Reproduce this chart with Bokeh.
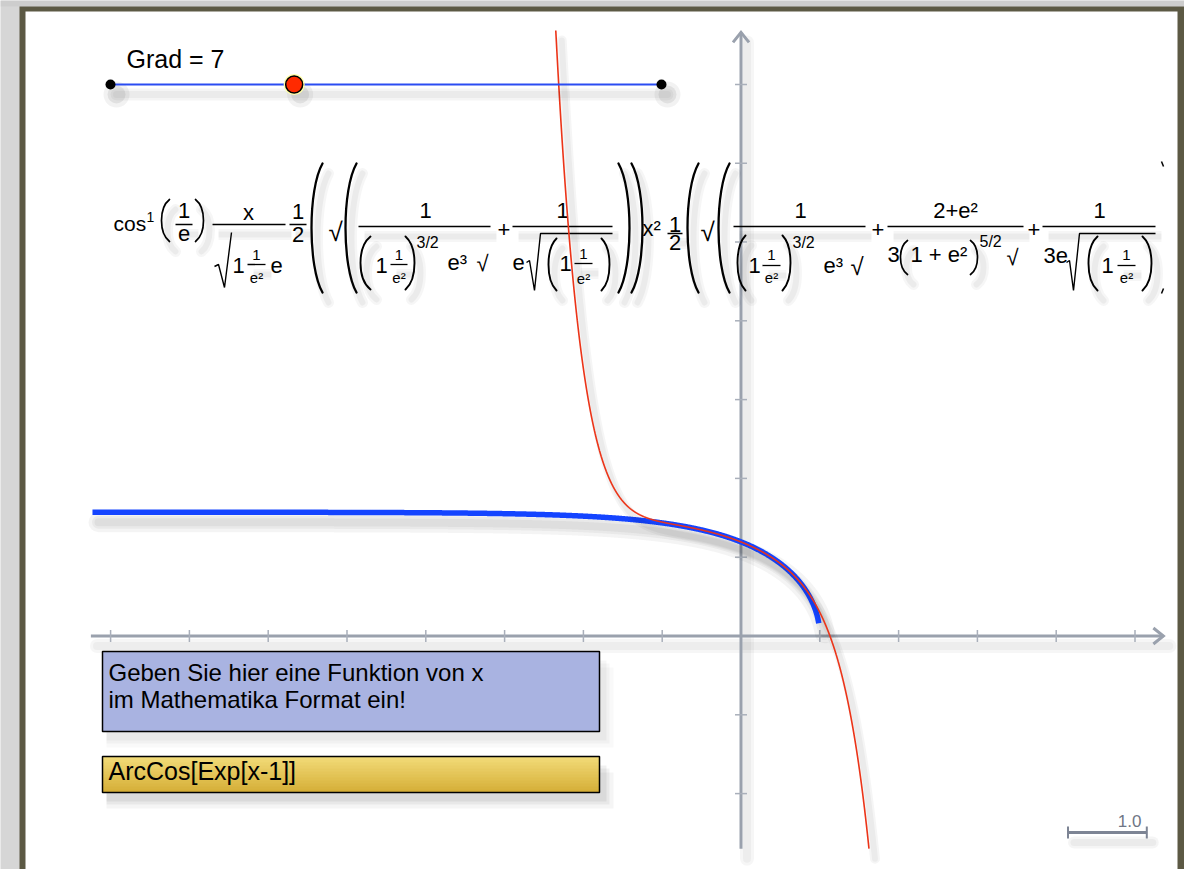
import numpy as np
from bokeh.plotting import figure
from bokeh.models import Range1d
from bokeh.core.properties import value
from bokeh.embed import file_html
from bokeh.resources import INLINE

# ---------------- chart data ----------------
FUNCTION_INPUT = "ArcCos[Exp[x-1]]"
PROMPT_LINES = ["Geben Sie hier eine Funktion von x", "im Mathematika Format ein!"]
GRAD = 7
SLIDER_MIN, SLIDER_MAX = 1, 19
# Taylor coefficients of ArcCos[Exp[x-1]] around x = 0, orders 0..7
TAYLOR_COEFFS = [1.1940689, -0.3956231, -0.2287726, -0.1120645,
                 -0.0618768, -0.0412324, -0.0305691, -0.0238466]
X_TICKS = [-8, -7, -6, -5, -4, -3, -2, -1, 1, 2, 3, 4, 5]
Y_TICKS = [-2, -1, 1, 2, 3, 4, 5, 6, 7]
X_AXIS_EXTENT = [-8.25, 5.36]
Y_AXIS_EXTENT = [-2.70, 7.66]
CURVE_DOMAIN = [-8.23, 0.987]
SCALE_BAR_UNITS = 1.0
SCALE_BAR_LABEL = "1.0"

# ---------------- page geometry ----------------
W, H = 1184, 869
OX, OY = 740.5, 635.5      # pixel position of the origin
PPU = 78.8                 # pixels per unit
FONT = "Liberation Sans"
AXIS_COLOR = "#9aa1ad"
TICK_COLOR = "#a9afba"
BASELINE_SHIFT = 0.38      # em offset between requested and drawn baseline
SH_DX, SH_DY = 6, 10       # drop-shadow offset in pixels


def ux(px):
    return (np.asarray(px, dtype=float) - OX) / PPU


def uy(py):
    return (OY - np.asarray(py, dtype=float)) / PPU


p = figure(width=W, height=H, x_range=Range1d(float(ux(0)), float(ux(W))),
           y_range=Range1d(float(uy(H)), float(uy(0))),
           output_backend="svg", toolbar_location=None,
           x_axis_location=None, y_axis_location=None, min_border=0)
p.grid.visible = False
p.outline_line_color = None
p.background_fill_color = "#d6d6d6"
p.border_fill_color = "#d6d6d6"


def rect(l, t, r, b, **kw):
    p.quad(left=[float(ux(l))], right=[float(ux(r))], top=[float(uy(t))],
           bottom=[float(uy(b))], **kw)


def label(s, px, py, size, align="left", color="#000000"):
    p.text(x=[float(ux(px))], y=[float(uy(py - BASELINE_SHIFT * size))], text=[s],
           text_font=value(FONT), text_font_size=f"{size}px", text_align=align,
           text_baseline="alphabetic", text_color=color)


def seg(x0, y0, x1, y1, color="black", width=1.3, alpha=1.0):
    p.segment(x0=[float(ux(x0))], y0=[float(uy(y0))], x1=[float(ux(x1))],
              y1=[float(uy(y1))], line_color=color, line_width=width, line_alpha=alpha)


def shadow_line(xs, ys, offx=SH_DX, offy=SH_DY, widths=(18, 12, 7), alpha=0.045):
    for w in widths:
        p.line(xs + offx / PPU, ys - offy / PPU, line_color="black", line_alpha=alpha,
               line_width=w, line_join="round", line_cap="round")


# ---------------- window frame ----------------
rect(0, 0, W, 6, fill_color="#cdcdcd", line_color=None)
rect(19, 6, W, H, fill_color="#5c5944", line_color=None)
rect(25, 11, 1177, H, fill_color="#ffffff", line_color=None)

# ---------------- axes ----------------
xa = np.array(X_AXIS_EXTENT)
ya = np.array(Y_AXIS_EXTENT)
shadow_line(xa, np.zeros(2), widths=(14, 8), alpha=0.035)
shadow_line(np.zeros(2), ya, widths=(14, 8), alpha=0.035)
p.line(xa, [0, 0], line_color=AXIS_COLOR, line_width=3)
p.line([0, 0], ya, line_color=AXIS_COLOR, line_width=3)
tick = 6 / PPU
p.segment(x0=X_TICKS, y0=[-tick] * len(X_TICKS), x1=X_TICKS, y1=[tick] * len(X_TICKS),
          line_color=TICK_COLOR, line_width=1.5)
p.segment(x0=[-tick] * len(Y_TICKS), y0=Y_TICKS, x1=[tick] * len(Y_TICKS), y1=Y_TICKS,
          line_color=TICK_COLOR, line_width=1.5)
hb, hw = 10 / PPU, 8 / PPU
p.line([xa[1] - hb, xa[1], xa[1] - hb], [hw, 0, -hw], line_color=AXIS_COLOR,
       line_width=3, line_join="miter")
p.line([-hw, 0, hw], [ya[1] - hb, ya[1], ya[1] - hb], line_color=AXIS_COLOR,
       line_width=3, line_join="miter")

# ---------------- Taylor expansion formula ----------------
M, S, E = 22, 15, 16   # main, small-fraction and exponent sizes
FORMULA_TEXT = [
    ("cos", 113, 231, 21, "left"), ("1", 146, 222, 14, "left"),
    ("1", 183.5, 218, M, "center"), ("e", 183.5, 241, M, "center"),
    ("x", 248, 220, M, "center"),
    ("1", 232, 273, M, "left"), ("1", 256, 260, S, "center"),
    ("e²", 256, 283, S, "center"), ("e", 270, 273, M, "left"),
    ("1", 297.5, 219, M, "center"), ("2", 297.5, 242, M, "center"),
    ("√", 328, 241, 26, "left"),
    ("1", 425, 218, M, "center"),
    ("1", 375, 273, M, "left"), ("1", 398.5, 260, S, "center"),
    ("e²", 398.5, 283, S, "center"), ("3/2", 416, 248, E, "left"),
    ("e³", 447, 270, M, "left"), ("√", 476, 271, M, "left"),
    ("+", 503.5, 237.5, M, "center"),
    ("1", 562, 218, M, "center"), ("e", 512, 270, M, "left"),
    ("1", 559, 271, M, "left"), ("1", 583, 259, S, "center"),
    ("e²", 583, 284, S, "center"),
    ("x²", 642, 236, M, "left"),
    ("1", 674.5, 232, M, "center"), ("2", 674.5, 250, M, "center"),
    ("√", 700, 241, 26, "left"),
    ("1", 800, 218, M, "center"),
    ("1", 748, 273, M, "left"), ("1", 771, 260, S, "center"),
    ("e²", 771, 283, S, "center"), ("3/2", 792, 248, E, "left"),
    ("e³", 823, 273, M, "left"), ("√", 850, 275, 24, "left"),
    ("+", 877.5, 237.5, M, "center"),
    ("2+e²", 955, 218, M, "center"),
    ("3", 887, 262, M, "left"), ("1 + e²", 910, 262, M, "left"),
    ("5/2", 979, 247, E, "left"), ("√", 1006, 265, M, "left"),
    ("+", 1033.5, 237, M, "center"),
    ("1", 1099, 218, M, "center"), ("3e", 1043, 263, M, "left"),
    ("1", 1101, 273, M, "left"), ("1", 1126, 260, S, "center"),
    ("e²", 1126, 283, S, "center"),
]
FORMULA_BARS = [
    (175, 192, 224), (212, 285, 224), (247, 265, 264), (289, 306, 224),
    (358, 490, 226), (390, 407, 264), (512, 612, 226), (574, 592, 263),
    (667, 682, 233), (733, 865, 226), (762, 780, 265), (887, 1023, 226),
    (1042, 1155, 226), (1117, 1135, 265),
]
# (outermost x, tip x, top, bottom, stroke)
FORMULA_PARENS = [
    (161, 169, 199, 241, 1.7), (203, 195, 199, 241, 1.7),
    (311, 322, 163, 292, 2.3), (345, 356, 163, 292, 2.3),
    (360, 370, 236, 289, 1.9), (414, 405, 236, 289, 1.9),
    (548, 556, 238, 290, 1.9), (609, 601, 238, 290, 1.9),
    (629, 618, 163, 292, 2.3), (642, 631, 163, 292, 2.3),
    (687, 698, 163, 292, 2.3), (718, 729, 163, 292, 2.3),
    (737, 745, 235, 290, 1.9), (790, 782, 235, 290, 1.9),
    (900, 907, 240, 274, 1.7), (977, 970, 240, 274, 1.7),
    (1088, 1097, 236, 290, 1.9), (1151, 1142, 236, 290, 1.9),
]
FORMULA_RADICALS = [
    [(214, 266), (218, 264), (224, 287), (231, 232)],
    [(526, 262), (529, 260), (534, 290), (540, 233), (612, 233)],
    [(1066, 262), (1069, 260), (1073, 290), (1079, 233), (1155, 233)],
]


def paren(xo, xt, top, bot, lw, dx=0.0, dy=0.0, color="black", alpha=1.0):
    h = bot - top
    c = (8 * xo - 2 * xt) / 6
    p.bezier(x0=[float(ux(xt + dx))], y0=[float(uy(top + dy))],
             x1=[float(ux(xt + dx))], y1=[float(uy(bot + dy))],
             cx0=[float(ux(c + dx))], cy0=[float(uy(top + 0.2 * h + dy))],
             cx1=[float(ux(c + dx))], cy1=[float(uy(bot - 0.2 * h + dy))],
             line_color=color, line_width=lw, line_alpha=alpha, line_cap="round")


# soft drop shadow of the typeset expression
for w, a in ((11, 0.035), (6, 0.045)):
    for xo, xt, top, bot, lw in FORMULA_PARENS:
        paren(xo, xt, top, bot, w, SH_DX, SH_DY, alpha=a)
    for x0, x1, y in FORMULA_BARS:
        seg(x0 + SH_DX, y + SH_DY, x1 + SH_DX, y + SH_DY, width=w, alpha=a)

for s, x, y, size, align in FORMULA_TEXT:
    label(s, x, y, size, align)
for x0, x1, y in FORMULA_BARS:
    seg(x0, y, x1, y, width=1.3)
for xo, xt, top, bot, lw in FORMULA_PARENS:
    paren(xo, xt, top, bot, lw)
for pts in FORMULA_RADICALS:
    xs, ys = zip(*pts)
    p.line(ux(xs), uy(ys), line_color="black", line_width=1.4)
seg(1161, 161, 1163, 166, width=1.5)
seg(1161, 293, 1163, 288, width=1.5)

# ---------------- curves ----------------
xb = np.linspace(CURVE_DOMAIN[0], CURVE_DOMAIN[1], 1500)
yb = np.arccos(np.exp(xb - 1))
shadow_line(xb, yb, widths=(20, 13, 8), alpha=0.045)
p.line(xb, yb, line_color="#1444ff", line_width=5.5)

xr = np.linspace(-2.6, 1.8, 12000)
yr = np.polyval(TAYLOR_COEFFS[::-1], xr)
keep = (yr <= Y_AXIS_EXTENT[1] + 0.03) & (yr >= Y_AXIS_EXTENT[0])
shadow_line(xr[keep], yr[keep], widths=(10, 6), alpha=0.04)
p.line(xr[keep], yr[keep], line_color="#ec3418", line_width=1.6)

# ---------------- slider ----------------
sx0, sx1, sy = 110, 661, 84
knob = sx0 + (GRAD - SLIDER_MIN) / (SLIDER_MAX - SLIDER_MIN) * (sx1 - sx0)
shadow_line(ux([sx0, sx1]), uy([sy, sy]), widths=(12, 7), alpha=0.04)
for d, a in ((26, 0.05), (18, 0.07)):
    p.scatter(x=ux([sx0 + 6, knob + 6, sx1 + 6]), y=uy([sy + 10] * 3), size=d,
              fill_color="black", fill_alpha=a, line_color=None)
p.line(ux([sx0, sx1]), uy([sy, sy]), line_color="#2a4cf2", line_width=2)
p.scatter(x=ux([sx0, sx1]), y=uy([sy, sy]), size=10, fill_color="black", line_color=None)
p.scatter(x=ux([knob]), y=uy([sy]), size=21, fill_color="#ffffa8", line_color=None)
p.scatter(x=ux([knob]), y=uy([sy]), size=17, fill_color="#ff2a00", line_color="black",
          line_width=1.5)
label(f"Grad = {GRAD}", 126, 68, 25)

# ---------------- input boxes ----------------
for k, a in ((10, 0.04), (6, 0.05), (3, 0.06)):
    rect(102 + 4, 756 + 6 + k, 599 + 4 + k, 792 + 6 + k, fill_color="black",
         fill_alpha=a, line_color=None)
    rect(102 + 4, 651 + 6 + k, 599 + 4 + k, 731 + 6 + k, fill_color="black",
         fill_alpha=a * 0.6, line_color=None)
rect(102, 651, 599, 731, fill_color="#a9b3e1", line_color="black", line_width=1.5)
label(PROMPT_LINES[0], 108, 681, 24)
label(PROMPT_LINES[1], 108, 708, 24)

top_c = np.array([0xf3, 0xdc, 0x7a])
bot_c = np.array([0xd5, 0xae, 0x36])
nb = 12
for i in range(nb):
    c = top_c + (bot_c - top_c) * (i + 0.5) / nb
    t0 = 756 + 36 * i / nb
    rect(102, t0, 599, t0 + 36 / nb + 0.4,
         fill_color="#%02x%02x%02x" % tuple(int(v) for v in c), line_color=None)
rect(102, 756, 599, 792, fill_color=None, line_color="black", line_width=1.5)
label(FUNCTION_INPUT, 108, 780, 25)

# ---------------- scale bar ----------------
sb0 = 1067.5
sb1 = sb0 + SCALE_BAR_UNITS * PPU
shadow_line(ux([sb0, sb1]), uy([832, 832]), widths=(12, 7), alpha=0.04)
seg(sb0, 832, sb1, 832, color="#7d8494", width=3)
seg(sb0, 826, sb0, 838, color="#7d8494", width=2)
seg(sb1, 826, sb1, 838, color="#7d8494", width=2)
label(SCALE_BAR_LABEL, 1141, 827, 17, "right", color="#6f7686")

open("out.html", "w").write(file_html(p, INLINE))
